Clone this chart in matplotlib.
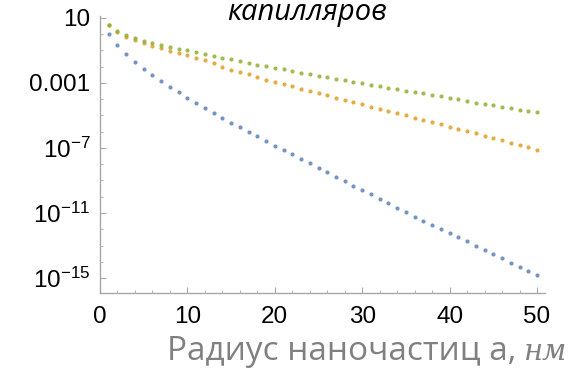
import numpy as np
import matplotlib
matplotlib.use('Agg')
import matplotlib.pyplot as plt
from matplotlib.ticker import FixedLocator, FixedFormatter

plt.rcParams['font.family'] = ['Liberation Sans', 'DejaVu Sans']
plt.rcParams['mathtext.fontset'] = 'custom'
plt.rcParams['mathtext.rm'] = 'Liberation Sans'
plt.rcParams['mathtext.it'] = 'Liberation Sans:italic'

# radius of nanoparticles, nm
radius = np.arange(1, 51)

# log10 of the three series
blue_log = [0.0, -0.68, -1.22, -1.69, -2.12, -2.53, -2.88, -3.25, -3.57, -3.90,
            -4.23, -4.54, -4.85, -5.14, -5.44, -5.73, -6.02, -6.28, -6.57, -6.86,
            -7.12, -7.39, -7.68, -7.94, -8.21, -8.50, -8.77, -9.05, -9.32, -9.58,
            -9.85, -10.14, -10.40, -10.67, -10.94, -11.23, -11.47, -11.74, -11.98, -12.25,
            -12.50, -12.74, -13.01, -13.28, -13.52, -13.79, -14.06, -14.32, -14.59, -14.83]
orange_log = [0.55, 0.12, -0.15, -0.35, -0.56, -0.72, -0.87, -1.01, -1.15, -1.30,
              -1.46, -1.60, -1.80, -2.00, -2.18, -2.33, -2.48, -2.62, -2.79, -2.93,
              -3.06, -3.20, -3.35, -3.49, -3.62, -3.75, -3.90, -4.05, -4.19, -4.31,
              -4.46, -4.58, -4.72, -4.85, -4.99, -5.14, -5.28, -5.40, -5.51, -5.69,
              -5.83, -5.97, -6.10, -6.24, -6.38, -6.53, -6.67, -6.82, -6.96, -7.10]
green_log = [0.55, 0.18, -0.07, -0.23, -0.40, -0.52, -0.64, -0.77, -0.89, -0.99,
             -1.11, -1.22, -1.33, -1.46, -1.56, -1.66, -1.77, -1.87, -1.97, -2.08,
             -2.16, -2.26, -2.37, -2.46, -2.57, -2.66, -2.75, -2.83, -2.94, -3.02,
             -3.10, -3.20, -3.29, -3.39, -3.47, -3.55, -3.63, -3.74, -3.81, -3.90,
             -4.00, -4.11, -4.21, -4.29, -4.37, -4.46, -4.54, -4.64, -4.72, -4.80]

y_ticks = [1e1, 1e-3, 1e-7, 1e-11, 1e-15]
y_labels = ['10', '0.001', r'$10^{-7}$', r'$10^{-11}$', r'$10^{-15}$']
x_ticks = [0, 10, 20, 30, 40, 50]

fig = plt.figure(figsize=(5.7, 3.7), dpi=100)
ax = fig.add_axes([0.1754, 0.208, 0.7806, 0.749])

for vals, col in [(blue_log, '#5E81B5'), (orange_log, '#E19C24'), (green_log, '#8FB032')]:
    ax.plot(radius, 10.0 ** np.array(vals), 'o', color=col, ms=3.0, mew=0, alpha=0.85)

ax.set_yscale('log')
ax.set_xlim(0, 50.9)
ax.set_ylim(10 ** -15.92, 10 ** 1.12)

ax.yaxis.set_major_locator(FixedLocator(y_ticks))
ax.yaxis.set_major_formatter(FixedFormatter(y_labels))
ax.yaxis.set_minor_locator(FixedLocator([10.0 ** k for k in range(-16, 2)]))
ax.yaxis.set_minor_formatter(FixedFormatter([]))
ax.set_xticks(x_ticks)
ax.set_xticks(np.arange(0, 51, 2), minor=True)

for s in ['top', 'right']:
    ax.spines[s].set_visible(False)
for s in ['left', 'bottom']:
    ax.spines[s].set_color('#a8a8a8')
    ax.spines[s].set_linewidth(1.0)

ax.tick_params(which='major', direction='in', length=4, width=0.8, color='#a8a8a8',
               labelsize=17.5, labelcolor='black')
ax.tick_params(which='minor', direction='in', length=2.2, width=0.6, color='#a8a8a8')
ax.tick_params(axis='y', which='major', pad=7)
ax.tick_params(axis='x', which='major', pad=9)
for lab in ax.get_xticklabels() + ax.get_yticklabels():
    lab.set_family(['Liberation Sans', 'DejaVu Sans'])

fig.text(0.539, 0.947, 'капилляров', fontsize=21, style='italic',
         family=['Open Sans', 'DejaVu Sans'], ha='center', va='baseline')

lbl = fig.text(0.293, 0.026, 'Радиус наночастиц а,', fontsize=24, color='#808080',
               family=['Open Sans', 'DejaVu Sans'], ha='left', va='baseline')
r = fig.canvas.get_renderer()
bb = lbl.get_window_extent(renderer=r)
fig.text((bb.x1 + 8) / fig.bbox.width, 0.026, 'нм', fontsize=21, color='#808080',
         style='italic', family=['DejaVu Serif'], ha='left', va='baseline')

fig.savefig('out.png', dpi=100)
